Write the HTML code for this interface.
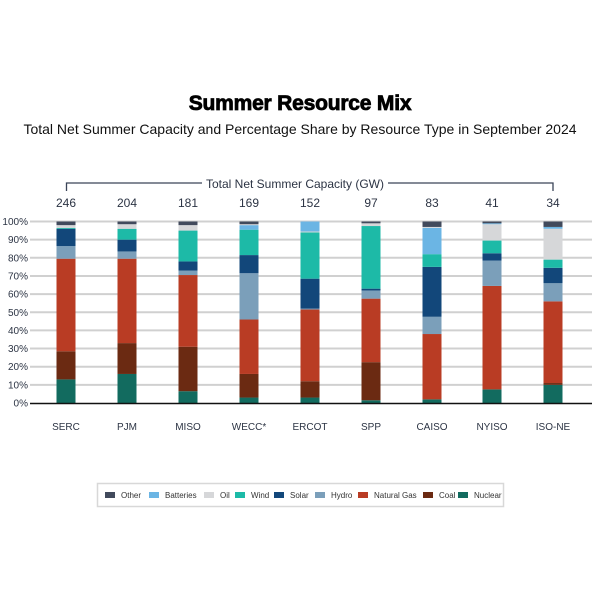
<!DOCTYPE html>
<html><head><meta charset="utf-8"><style>
html,body{margin:0;padding:0;background:#fff;}
</style></head><body>
<svg width="600" height="600" viewBox="0 0 600 600" xmlns="http://www.w3.org/2000/svg" font-family="Liberation Sans, sans-serif">
<rect width="600" height="600" fill="#fff"/>
<text x="300" y="110" text-anchor="middle" font-size="21" font-weight="bold" fill="#000" stroke="#000" stroke-width="0.8" style="letter-spacing:-0.2px">Summer Resource Mix</text>
<text x="300" y="134" text-anchor="middle" font-size="14" fill="#111">Total Net Summer Capacity and Percentage Share by Resource Type in September 2024</text>
<path d="M66.5 191 V183 H202 M388 183 H553 V191" stroke="#3a4457" stroke-width="1.3" fill="none"/>
<text x="295" y="188" text-anchor="middle" font-size="12" fill="#2c3444">Total Net Summer Capacity (GW)</text>
<g id="grid" stroke="#d0d0d0" stroke-width="2"></g>
<g id="bars"></g>
<g id="labels" font-size="10" fill="#2c3444"></g>
<rect x="97.5" y="483.5" width="406" height="23" fill="#fff" stroke="#d8d8d8" stroke-width="1.5"/>
<g id="legend" font-size="8" fill="#333"></g>
</svg>
<script>
const ns="http://www.w3.org/2000/svg";
function el(t,a,p,txt){const e=document.createElementNS(ns,t);for(const k in a)e.setAttribute(k,a[k]);if(txt!=null)e.textContent=txt;document.getElementById(p).appendChild(e);return e;}
const y0=403,H=181.5;
for(let i=0;i<=10;i++){const y=y0-H*i/10;
 if(i>0)el('line',{x1:30,x2:592,y1:y,y2:y},'grid');
 el('text',{x:28,y:y+3.5,'text-anchor':'end'},'labels',(i*10)+'%');}
const C={nuc:'#126b5f',coal:'#6b2a12',gas:'#b93c24',hydro:'#7b9fba',solar:'#12477a',wind:'#1dbaa7',oil:'#d6d7d9',batt:'#6bb5e4',other:'#414a5c'};
const data=[
['SERC',246,[['nuc',13],['coal',28.5],['gas',79.5],['hydro',86.5],['solar',96],['wind',96.5],['oil',98],['other',100]]],
['PJM',204,[['nuc',16],['coal',33],['gas',79.5],['hydro',83.5],['solar',90],['wind',96],['oil',98.5],['other',100]]],
['MISO',181,[['nuc',6.5],['coal',31],['gas',70.5],['hydro',73],['solar',78],['wind',95],['oil',98],['other',100]]],
['WECC*',169,[['nuc',3],['coal',16],['gas',46],['hydro',71.5],['solar',81.5],['wind',95.5],['batt',98],['oil',98.5],['other',100]]],
['ERCOT',152,[['nuc',3],['coal',12],['gas',51.5],['hydro',52],['solar',68.5],['wind',94],['oil',94.5],['batt',100]]],
['SPP',97,[['nuc',1.5],['coal',22.5],['gas',57.5],['hydro',62],['solar',63],['wind',97.5],['oil',99],['other',100]]],
['CAISO',83,[['nuc',2],['gas',38],['hydro',47.5],['solar',75],['wind',82],['batt',96.5],['oil',97],['other',100]]],
['NYISO',41,[['nuc',7.5],['gas',64.5],['hydro',78.5],['solar',82.5],['wind',89.5],['oil',98.5],['batt',99],['other',100]]],
['ISO-NE',34,[['nuc',10],['coal',11],['gas',56],['hydro',66],['solar',74.5],['wind',79],['oil',96],['batt',97],['other',100]]]];
const cx=[66,127,188,249,310,371,432,492,553];
data.forEach((d,i)=>{let prev=0;const x=cx[i]-9.5;
 d[2].forEach(([k,v])=>{const yt=y0-H*v/100,yb=y0-H*prev/100;
  el('rect',{x:x,y:yt,width:19,height:yb-yt,fill:C[k]},'bars');prev=v;});
 el('text',{x:cx[i],y:207,'text-anchor':'middle','font-size':12},'labels',d[1]);
 el('text',{x:cx[i],y:430,'text-anchor':'middle'},'labels',d[0]);});
el('line',{x1:30,x2:592,y1:403.5,y2:403.5,stroke:'#111','stroke-width':1.5},'bars');
const leg=[['Other','other',105],['Batteries','batt',149],['Oil','oil',204],['Wind','wind',235],['Solar','solar',274],['Hydro','hydro',315],['Natural Gas','gas',358],['Coal','coal',423],['Nuclear','nuc',458]];
leg.forEach(([t,k,x])=>{el('rect',{x:x,y:492,width:10,height:6,fill:C[k]},'legend');el('text',{x:x+16,y:498},'legend',t);});
</script>
</body></html>
